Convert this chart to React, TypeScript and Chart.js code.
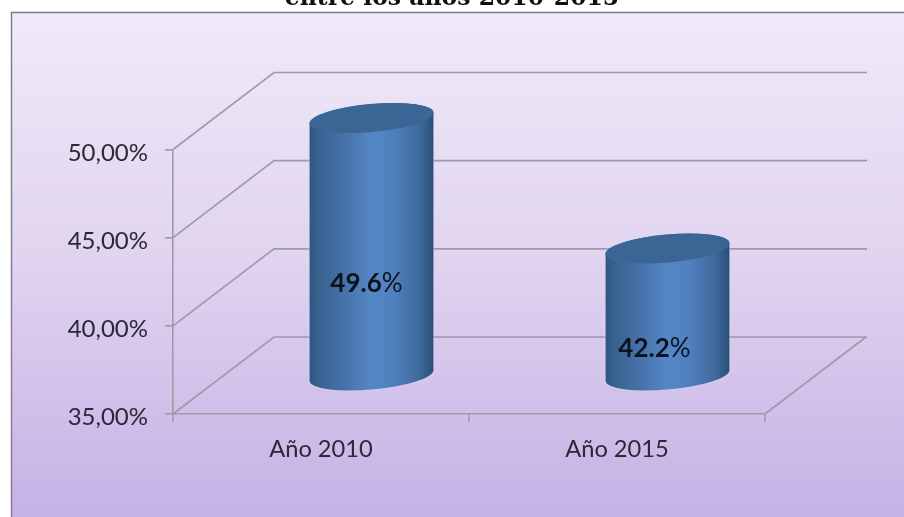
import React, { useEffect, useRef } from "react";
import { Chart, registerables } from "chart.js";

Chart.register(...registerables);

const categories = ["Año 2010", "Año 2015"];
const seriesValues = [49.6, 42.2];
const valueLabels = ["49.6", "42.2"];
const titleText = "entre los años 2010-2015";

const DEPTH_X = 101;
const DEPTH_Y = -77;
const GRID = "#9f99a8";
const LABEL_SHIFT = [45.5, 37.5];

const chart3d = {
  id: "chart3d",
  beforeDraw(chart: any) {
    const { ctx, width, height } = chart;
    ctx.save();
    ctx.fillStyle = "#ffffff";
    ctx.fillRect(0, 0, width, height);
    const g = ctx.createLinearGradient(0, 12, 0, height);
    g.addColorStop(0, "#f0eaf9");
    g.addColorStop(0.5, "#e0d3ef");
    g.addColorStop(1, "#c5b1e5");
    ctx.fillStyle = g;
    ctx.fillRect(11, 12, width - 11, height - 12);
    ctx.strokeStyle = "#7d7790";
    ctx.lineWidth = 1.4;
    ctx.beginPath();
    ctx.moveTo(11.5, height);
    ctx.lineTo(11.5, 12.5);
    ctx.lineTo(width, 12.5);
    ctx.stroke();
    ctx.font = "bold 23.5px 'DejaVu Serif'";
    ctx.fillStyle = "#111111";
    ctx.textAlign = "center";
    ctx.textBaseline = "alphabetic";
    ctx.fillText(titleText, 452, 5);
    ctx.restore();
  },
  beforeDatasetsDraw(chart: any) {
    const { ctx, chartArea, scales } = chart;
    const { left, right, bottom } = chartArea;
    ctx.save();
    ctx.strokeStyle = GRID;
    ctx.lineWidth = 1.6;
    scales.y.ticks.forEach((t: any) => {
      const y = scales.y.getPixelForValue(t.value);
      ctx.beginPath();
      ctx.moveTo(left, y);
      ctx.lineTo(left + DEPTH_X, y + DEPTH_Y);
      ctx.lineTo(right + DEPTH_X + 1, y + DEPTH_Y);
      ctx.stroke();
    });
    ctx.beginPath();
    ctx.moveTo(right, bottom);
    ctx.lineTo(right + DEPTH_X, bottom + DEPTH_Y);
    ctx.stroke();
    ctx.restore();
  },
  afterDatasetsDraw(chart: any) {
    const { ctx, scales } = chart;
    const meta = chart.getDatasetMeta(0);
    const base = scales.y.getPixelForValue(scales.y.min);
    meta.data.forEach((bar: any, i: number) => {
      const a = bar.width / 2;
      const b = 14;
      const rot = -0.09;
      const cx = bar.x + DEPTH_X / 2;
      const yTop = bar.y + DEPTH_Y / 2;
      const yBot = base + DEPTH_Y / 2;
      const t0 = Math.atan(-(b / a) * Math.tan(rot));
      ctx.save();
      const side = ctx.createLinearGradient(cx - a, 0, cx + a, 0);
      side.addColorStop(0, "#2f5682");
      side.addColorStop(0.08, "#39628f");
      side.addColorStop(0.28, "#4672a9");
      side.addColorStop(0.5, "#5587c7");
      side.addColorStop(0.68, "#4f80bd");
      side.addColorStop(0.88, "#3f6a9d");
      side.addColorStop(1, "#2b4e78");
      ctx.fillStyle = side;
      ctx.shadowColor = "rgba(210,225,250,0.7)";
      ctx.shadowBlur = 3;
      ctx.beginPath();
      ctx.ellipse(cx, yBot, a, b, rot, t0, t0 + Math.PI, false);
      ctx.ellipse(cx, yTop, a, b, rot, t0 + Math.PI, t0 + 2 * Math.PI, false);
      ctx.closePath();
      ctx.fill();
      ctx.shadowBlur = 0;
      ctx.shadowColor = "rgba(0,0,0,0)";
      ctx.fillStyle = "#3b6594";
      ctx.beginPath();
      ctx.ellipse(cx, yTop, a, b, rot, 0, 2 * Math.PI);
      ctx.fill();

      const lx = bar.x + LABEL_SHIFT[i];
      const ly = (bar.y + base) / 2 - 2;
      ctx.textBaseline = "middle";
      ctx.textAlign = "left";
      ctx.fillStyle = "#0c1220";
      const boldFont = "bold 26px Lato";
      const normFont = "26px Lato";
      ctx.font = boldFont;
      const w1 = ctx.measureText(valueLabels[i]).width;
      ctx.font = normFont;
      const w2 = ctx.measureText("%").width;
      const x0 = lx - (w1 + w2) / 2;
      ctx.font = boldFont;
      ctx.fillText(valueLabels[i], x0, ly);
      ctx.font = normFont;
      ctx.fillText("%", x0 + w1, ly);
      ctx.restore();
    });
  },
};

export default function App() {
  const ref = useRef<HTMLCanvasElement>(null);
  useEffect(() => {
    const chart = new Chart(ref.current as HTMLCanvasElement, {
      type: "bar",
      data: {
        labels: categories,
        datasets: [
          {
            data: seriesValues,
            backgroundColor: "rgba(0,0,0,0)",
            borderWidth: 0,
            barPercentage: 0.42,
            categoryPercentage: 1,
          },
        ],
      },
      plugins: [chart3d],
      options: {
        responsive: false,
        animation: false,
        layout: { padding: { left: 0, right: 139, top: 149.5, bottom: 0 } },
        plugins: {
          legend: { display: false },
          title: { display: false },
          tooltip: { enabled: false },
        },
        scales: {
          y: {
            min: 35,
            max: 50,
            ticks: {
              stepSize: 5,
              padding: 17,
              labelOffset: 3.5,
              color: "#2b2838",
              font: { family: "Lato", size: 24 },
              callback: (v: any) => Number(v).toFixed(2).replace(".", ",") + "%",
            },
            grid: { drawOnChartArea: false, color: GRID, tickLength: 8, lineWidth: 1.6 },
            border: { color: GRID, width: 1.6 },
            afterFit: (axis: any) => {
              axis.width = 173;
            },
          },
          x: {
            offset: true,
            ticks: {
              padding: 13,
              color: "#2b2838",
              font: { family: "Lato", size: 23.7 },
            },
            grid: { drawOnChartArea: false, offset: true, color: GRID, tickLength: 8, lineWidth: 1.6 },
            border: { color: GRID, width: 1.6 },
            afterFit: (axis: any) => {
              axis.height = 103;
            },
          },
        },
      },
    } as any);
    return () => chart.destroy();
  }, []);
  return (
    <canvas
      ref={ref}
      width={904}
      height={517}
      style={{ position: "fixed", left: 0, top: 0, display: "block" }}
    />
  );
}
